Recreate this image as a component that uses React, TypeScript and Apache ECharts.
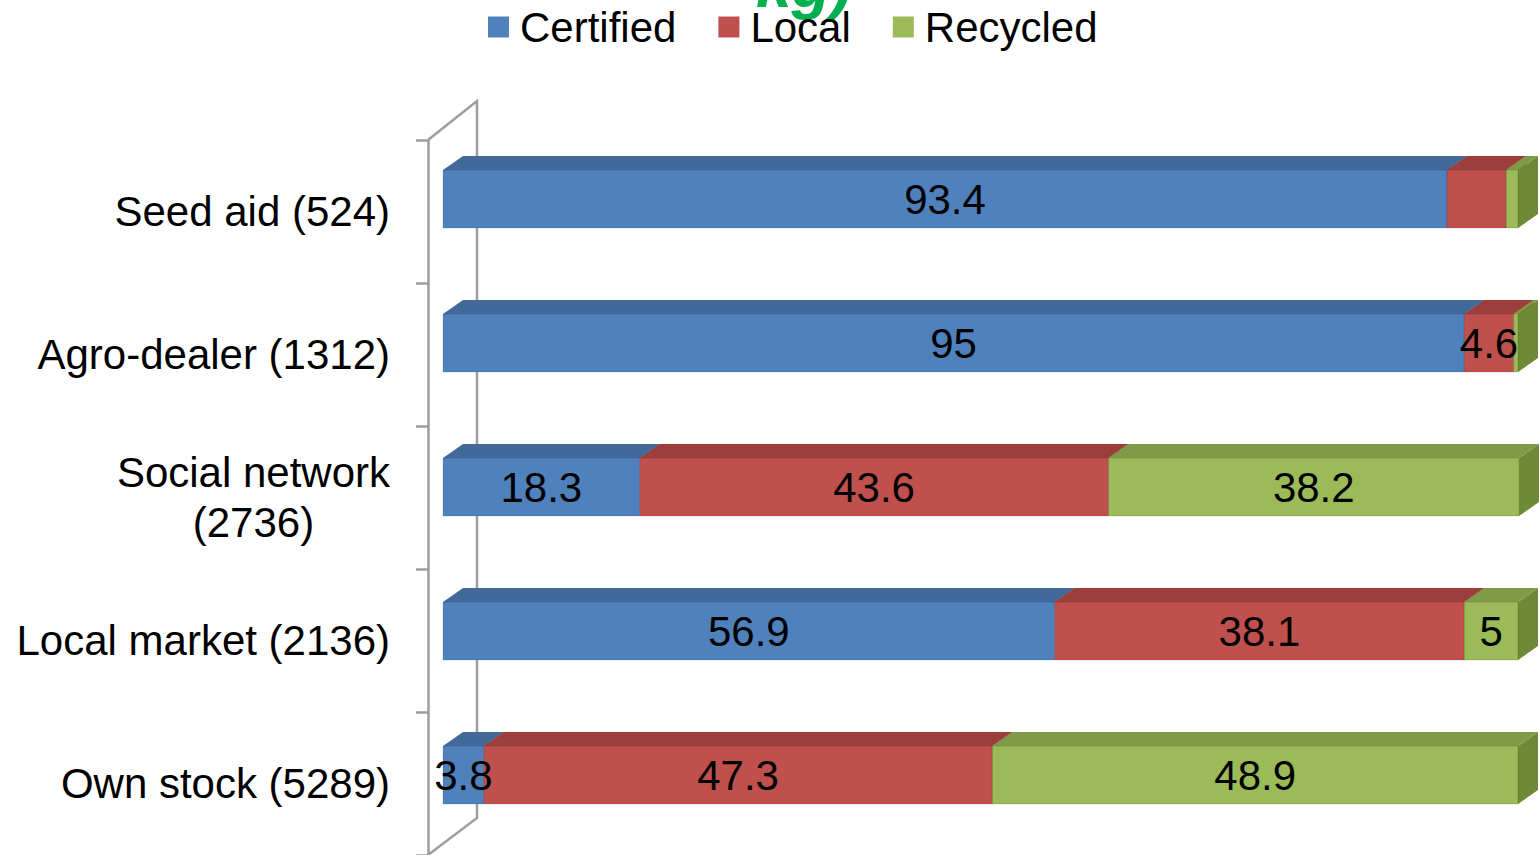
import React, { useEffect, useRef } from "react";
import * as echarts from "echarts";

// ---- data ----
const categories = [
  "Seed aid (524)",
  "Agro-dealer (1312)",
  "Social network\n(2736)",
  "Local market (2136)",
  "Own stock (5289)",
];
const seriesNames = ["Certified", "Local", "Recycled"];
const certified = [93.4, 95, 18.3, 56.9, 3.8];
const local = [5.5, 4.6, 43.6, 38.1, 47.3];
const recycled = [1.1, 0.4, 38.2, 5, 48.9];
const labelShown = [
  [true, true, true, true, true],
  [false, true, true, true, true],
  [false, false, true, true, true],
];
const titleText = "kg)";

// ---- styles ----
const FONT = "'Liberation Sans', Arial, Helvetica, sans-serif";
const frontColors = ["#4f81bd", "#c0504d", "#9bbb59"];
const topColors = ["#41699a", "#9c3f3c", "#7f9b48"];
const sideColors = ["#385d8a", "#8c3836", "#6e8a37"];
const FRAME = "#9d9d9d";
const DX = 20;
const DY = -14;
const BAR_RATIO = 58 / 144;

export default function App() {
  const ref = useRef<HTMLDivElement>(null);
  useEffect(() => {
    if (!ref.current) return;
    const chart = echarts.init(ref.current, null, { renderer: "svg" });
    const valueSets = [certified, local, recycled];
    const starts = categories.map(() => 0);
    const seriesData = valueSets.map((vals, si) =>
      vals.map((v, i) => {
        const s = starts[i];
        starts[i] = s + v;
        return [s, i, s + v, v, labelShown[si][i] ? 1 : 0];
      })
    );

    const geom = (api: any) => {
      const start = api.value(0);
      const idx = api.value(1);
      const end = api.value(2);
      const p0 = api.coord([start, idx]);
      const p1 = api.coord([end, idx]);
      const band = api.size([0, 1])[1];
      const h = band * BAR_RATIO;
      return { x0: p0[0], x1: p1[0], yT: p0[1] - h / 2, yB: p0[1] + h / 2, h };
    };

    const barSeries = seriesNames.map((name, si) => ({
      name,
      type: "custom",
      xAxisIndex: 0,
      yAxisIndex: 0,
      z: 3,
      itemStyle: { color: frontColors[si] },
      encode: { x: [0, 2], y: 1 },
      data: seriesData[si],
      renderItem: (params: any, api: any) => {
        const { x0, x1, yT, yB, h } = geom(api);
        return {
          type: "group",
          children: [
            {
              type: "polygon",
              shape: { points: [[x0, yT], [x1, yT], [x1 + DX, yT + DY], [x0 + DX, yT + DY]] },
              style: { fill: topColors[si] },
            },
            {
              type: "polygon",
              shape: { points: [[x1, yT], [x1 + DX, yT + DY], [x1 + DX, yB + DY], [x1, yB]] },
              style: { fill: sideColors[si] },
            },
            {
              type: "rect",
              shape: { x: x0, y: yT, width: x1 - x0, height: h },
              style: { fill: frontColors[si], stroke: "rgba(0,0,0,0.12)", lineWidth: 1 },
            },
          ],
        };
      },
    }));

    const labelSeries = seriesNames.map((name, si) => ({
      name: name + " labels",
      type: "custom",
      xAxisIndex: 0,
      yAxisIndex: 0,
      z: 6,
      silent: true,
      encode: { x: [0, 2], y: 1 },
      data: seriesData[si],
      renderItem: (params: any, api: any) => {
        if (!api.value(4)) return null;
        const { x0, x1, yT, yB } = geom(api);
        return {
          type: "text",
          x: (x0 + x1) / 2,
          y: (yT + yB) / 2,
          style: {
            text: String(api.value(3)),
            fill: "#000",
            font: `42px ${FONT}`,
            align: "center",
            verticalAlign: "middle",
          },
        };
      },
    }));

    chart.setOption({
      animation: false,
      textStyle: { fontFamily: FONT },
      legend: {
        data: seriesNames,
        left: 488,
        top: 6,
        padding: 0,
        itemWidth: 21,
        itemHeight: 21,
        itemGap: 42,
        icon: "rect",
        textStyle: { fontSize: 42, color: "#000", fontFamily: FONT, padding: [0, 0, 0, 6] },
      },
      graphic: [
        {
          type: "text",
          left: 756,
          top: -47,
          z: 0,
          style: {
            text: titleText,
            fill: "#00b050",
            font: `italic bold 64px ${FONT}`,
          },
        },
        {
          type: "polyline",
          z: 0,
          shape: { points: [[428, 140], [477, 101], [477, 818], [428, 855]] },
          style: { stroke: FRAME, lineWidth: 2.5, fill: "none" },
        },
      ],
      grid: [
        { left: 443, right: 21, top: 127, height: 720 },
        { left: 428, top: 140, height: 716.5, width: 1000 },
      ],
      xAxis: [
        { type: "value", gridIndex: 0, min: 0, max: 100, show: false },
        { type: "value", gridIndex: 1, min: 0, max: 100, show: false },
      ],
      yAxis: [
        { type: "category", gridIndex: 0, data: categories, inverse: true, show: false },
        {
          type: "category",
          gridIndex: 1,
          data: categories,
          inverse: true,
          axisLine: { show: true, lineStyle: { color: FRAME, width: 2.5 } },
          axisTick: { show: true, length: 12, lineStyle: { color: FRAME, width: 2.5 } },
          splitLine: { show: false },
          axisLabel: {
            margin: 38,
            color: "#000",
            fontSize: 42,
            fontFamily: FONT,
            lineHeight: 50,
            formatter: (v: string) =>
              v
                .split("\n")
                .map((s) => `{c|${s}}`)
                .join("\n"),
            rich: {
              c: { align: "center", fontSize: 42, fontFamily: FONT, color: "#000", lineHeight: 50 },
            },
          },
        },
      ],
      series: [...barSeries, ...labelSeries],
    });
    return () => chart.dispose();
  }, []);
  return (
    <div
      ref={ref}
      style={{ position: "fixed", left: 0, top: 0, width: 1539, height: 855, background: "#fff" }}
    />
  );
}
